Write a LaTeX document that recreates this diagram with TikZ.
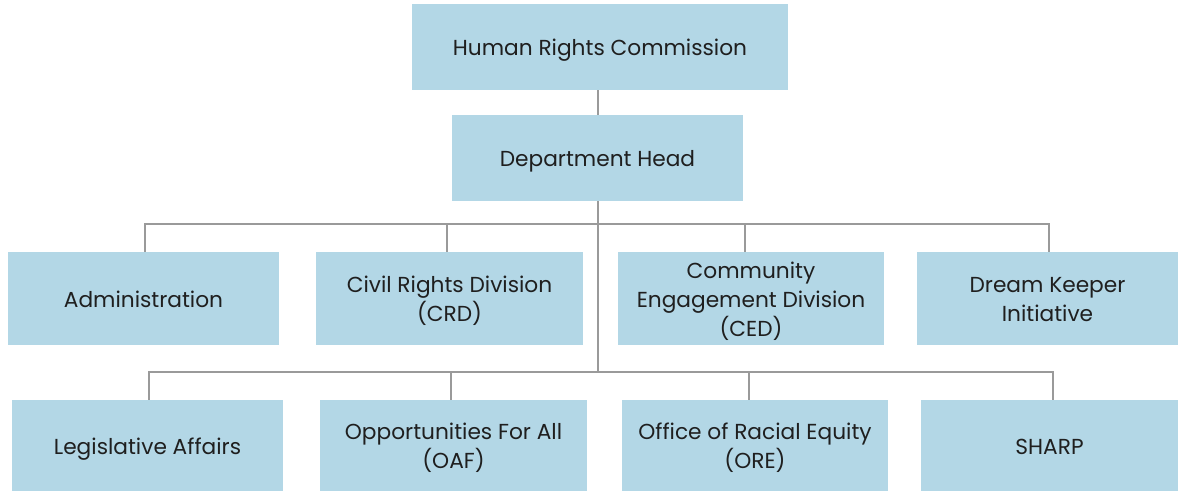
\documentclass[tikz,border=0pt]{standalone}
\usepackage{fontspec}
\setmainfont{Poppins}
\newcommand\bxt[1]{\raisebox{-3pt}[\height][\depth]{\begin{tabular}{@{}c@{}}#1\end{tabular}}}
\begin{document}
\begin{tikzpicture}[x=1pt,y=-1pt,
  box/.style={draw=none,fill=boxblue,align=center,inner sep=0pt,
    font=\fontsize{21.7}{29}\selectfont,text=black!88},
  conn/.style={draw=linegray,line width=2pt}]
\definecolor{boxblue}{HTML}{B3D7E6}
\definecolor{linegray}{HTML}{9A9A9A}
\useasboundingbox[fill=white] (0,0) rectangle (1178,491);
\node[box,minimum width=376pt,minimum height=86pt] (hrc) at (600,47) {\bxt{Human Rights Commission}};
\node[box,minimum width=291pt,minimum height=86pt] (dh) at (597.5,158) {\bxt{Department Head}};
\node[box,minimum width=271pt,minimum height=93pt] (adm) at (143.5,298.5) {\bxt{Administration}};
\node[box,minimum width=267pt,minimum height=93pt] (crd) at (449.5,298.5) {\bxt{Civil Rights Division\\(CRD)}};
\node[box,minimum width=266pt,minimum height=93pt] (ced) at (751,298.5) {\bxt{Community\\Engagement Division\\(CED)}};
\node[box,minimum width=261pt,minimum height=93pt] (dki) at (1047.5,298.5) {\bxt{Dream Keeper\\Initiative}};
\node[box,minimum width=271pt,minimum height=91pt] (leg) at (147.5,445.5) {\bxt{Legislative Affairs}};
\node[box,minimum width=267pt,minimum height=91pt] (oaf) at (453.5,445.5) {\bxt{Opportunities For All\\(OAF)}};
\node[box,minimum width=266pt,minimum height=91pt] (ore) at (755,445.5) {\bxt{Office of Racial Equity\\(ORE)}};
\node[box,minimum width=257pt,minimum height=91pt] (sharp) at (1049.5,445.5) {\bxt{SHARP}};
\coordinate (j2) at (598,372);
\draw[conn] (dh.north |- hrc.south) -- (dh.north);
\draw[conn] (dh.south) -- (dh.south |- j2);
\draw[conn] ([xshift=1.5pt]adm.north) -- ++(0,-28) -| ([xshift=1.8pt]dki.north);
\draw[conn] ([xshift=-2.2pt]crd.north) -- ++(0,-28);
\draw[conn] ([xshift=-5.7pt]ced.north) -- ++(0,-28);
\draw[conn] ([xshift=1.5pt]leg.north) -- ++(0,-28) -| ([xshift=3.5pt]sharp.north);
\draw[conn] ([xshift=-2.2pt]oaf.north) -- ++(0,-28);
\draw[conn] ([xshift=-5.7pt]ore.north) -- ++(0,-28);
\end{tikzpicture}
\end{document}
